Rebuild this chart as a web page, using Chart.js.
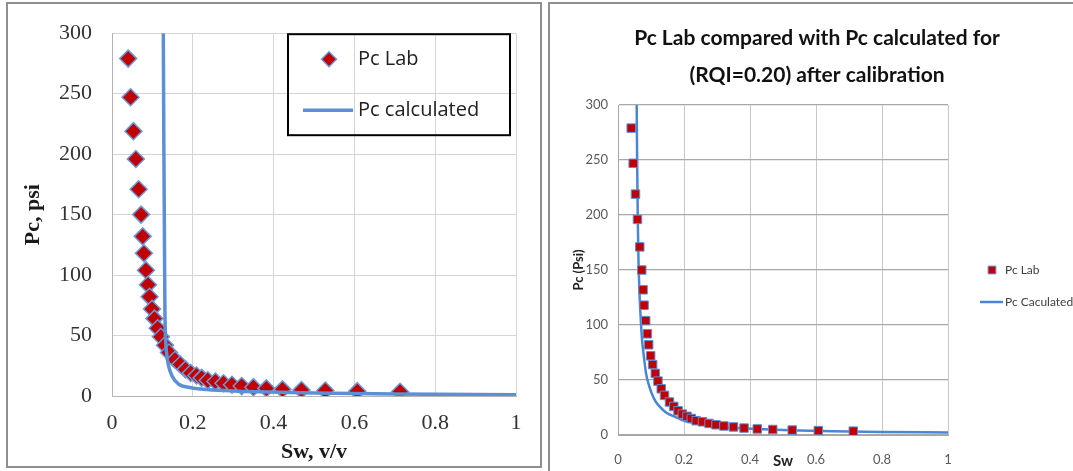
<!DOCTYPE html>
<html>
<head>
<meta charset="utf-8">
<script src="https://cdn.jsdelivr.net/npm/chart.js@4.4.1/dist/chart.umd.min.js"></script>
<style>
  html, body { margin: 0; padding: 0; background: #fff; }
  body { width: 1073px; height: 471px; position: relative; overflow: hidden; }
  .panel { position: absolute; box-sizing: border-box; border: 2px solid #8f8f8f; }
  #panelA { left: 6px; top: 2px; width: 536px; height: 466px; }
  #panelB { left: 548px; top: 2px; width: 600px; height: 500px; }
  canvas { position: absolute; top: 0; }
  #chartA { left: 0; }
  #chartB { left: 548px; }
</style>
</head>
<body>
<div class="panel" id="panelA"></div>
<div class="panel" id="panelB"></div>
<canvas id="chartA" width="545" height="471"></canvas>
<canvas id="chartB" width="538" height="471"></canvas>
<script>
// lab capillary pressure (same points on both plots)
const swLab = [0.040, 0.046, 0.053, 0.059, 0.066, 0.072, 0.076, 0.079, 0.084, 0.089,
  0.093, 0.099, 0.105, 0.113, 0.121, 0.131, 0.141, 0.156, 0.169, 0.182,
  0.195, 0.209, 0.222, 0.237, 0.256, 0.276, 0.297, 0.321, 0.350, 0.382,
  0.422, 0.469, 0.528, 0.607, 0.713]
const pcLab = [279, 247, 219, 196, 171, 150, 132, 118, 104, 92,
  82, 72, 64, 56, 49, 42, 36, 30, 26, 22,
  19, 17, 15, 13, 12, 10.5, 9.3, 8.2, 7.3, 6.3,
  5.5, 5, 4.5, 4, 3.5]

// calculated curve (left plot)
const swCalc = [0.127, 0.1285, 0.130, 0.131, 0.133, 0.136, 0.140, 0.148, 0.164, 0.193, 0.25, 0.333, 0.5, 0.7, 1.0]
const pcCalc = [300, 200, 120, 70, 45, 33, 25, 17, 10, 7, 4.9, 3.8, 2.5, 1.6, 1.0]

// calculated curve after calibration (right plot)
const swCalib = [0.0566, 0.058, 0.060, 0.062, 0.065, 0.069, 0.073, 0.079, 0.085, 0.093,
  0.102, 0.115, 0.137, 0.148, 0.173, 0.2, 0.238, 0.279, 0.35, 0.5, 0.65, 0.8, 1.0]
const pcCalib = [300, 250, 195, 160, 130, 105, 86, 70, 56, 46,
  38, 30, 22.7, 20, 16.5, 13, 10.6, 8, 6.5, 4.5, 3.5, 2.8, 2.3]

const titleB = ['Pc Lab compared with Pc calculated for', '(RQI=0.20) after calibration']

const serif = "'Liberation Serif', 'Times New Roman', serif"
const calibri = "Lato, 'Liberation Sans', sans-serif"

function toPoints(xs, ys) {
  return xs.map((x, i) => ({ x, y: ys[i] }))
}

// excel style: 0, 0.2 ... 1
function shortNum(v) {
  return String(+v.toFixed(2))
}

// legend drawn at a fixed spot next to / inside the plot area
const boxLegend = {
  id: 'boxLegend',
  afterDraw(chart, args, opts) {
    if (!opts.items) return
    const { ctx, chartArea } = chart
    const x0 = chartArea.right + opts.x
    const y0 = chartArea.top + opts.y
    ctx.save()
    if (opts.box) {
      ctx.lineWidth = 2
      ctx.strokeStyle = '#000'
      ctx.strokeRect(x0, y0, opts.box.w, opts.box.h)
    }
    opts.items.forEach(item => {
      const ds = chart.data.datasets[item.dataset]
      const cy = y0 + item.y
      if (item.line) {
        ctx.strokeStyle = ds.borderColor
        ctx.lineWidth = ds.borderWidth
        ctx.beginPath()
        ctx.moveTo(x0 + item.x1, cy)
        ctx.lineTo(x0 + item.x2, cy)
        ctx.stroke()
      } else {
        ctx.fillStyle = ds.backgroundColor
        ctx.strokeStyle = ds.borderColor
        ctx.lineWidth = ds.borderWidth
        Chart.helpers.drawPoint(ctx, {
          pointStyle: ds.pointStyle, radius: item.r, borderWidth: ds.borderWidth, rotation: 0
        }, x0 + item.mx, cy)
      }
      ctx.fillStyle = opts.color
      ctx.font = opts.font
      ctx.textAlign = 'left'
      ctx.textBaseline = 'middle'
      ctx.fillText(ds.label, x0 + opts.textX, cy)
    })
    ctx.restore()
  }
}
Chart.register(boxLegend)

const chartA = new Chart(document.getElementById('chartA'), {
  type: 'scatter',
  data: {
    datasets: [
      {
        label: 'Pc Lab',
        data: toPoints(swLab, pcLab),
        pointStyle: 'rectRot',
        pointRadius: 8.5,
        backgroundColor: '#c00000',
        borderColor: '#6a9ad9',
        borderWidth: 1.5,
        order: 2
      },
      {
        type: 'line',
        label: 'Pc calculated',
        data: toPoints(swCalc, pcCalc),
        borderColor: '#5b8fd6',
        borderWidth: 3.5,
        pointRadius: 0,
        cubicInterpolationMode: 'monotone',
        fill: false,
        order: 1
      }
    ]
  },
  options: {
    responsive: false,
    animation: false,
    layout: { padding: { left: 0, right: 29, top: 28, bottom: 0 } },
    plugins: {
      legend: { display: false },
      tooltip: { enabled: false },
      boxLegend: {
        x: -228, y: 1,
        box: { w: 222, h: 101 },
        textX: 70,
        font: "20px 'Open Sans', sans-serif",
        color: '#222',
        items: [
          { dataset: 0, y: 25, mx: 41, r: 7.5 },
          { dataset: 1, y: 76, line: true, x1: 15, x2: 65 }
        ]
      }
    },
    scales: {
      x: {
        type: 'linear', min: 0, max: 1,
        ticks: { stepSize: 0.2, padding: 14, color: '#333', font: { family: serif, size: 22 }, callback: shortNum },
        grid: { color: '#d4d4d4', drawTicks: false },
        border: { color: '#b4b4b4' },
        title: {
          display: true, text: 'Sw, v/v', color: '#1a1a1a',
          font: { family: serif, size: 22, weight: 'bold' }, padding: { top: 0, bottom: 5 }
        },
        afterFit: s => { s.height = 75 }
      },
      y: {
        min: 0, max: 300,
        ticks: { stepSize: 50, padding: 20, color: '#333', font: { family: serif, size: 22 } },
        grid: { color: '#d4d4d4', drawTicks: false },
        border: { color: '#b4b4b4' },
        title: {
          display: true, text: 'Pc, psi', color: '#1a1a1a',
          font: { family: serif, size: 22, weight: 'bold' }, padding: { top: 20, bottom: 0 }
        },
        afterFit: s => { s.width = 112 }
      }
    }
  }
})

const chartB = new Chart(document.getElementById('chartB'), {
  type: 'scatter',
  data: {
    datasets: [
      {
        label: 'Pc Lab',
        data: toPoints(swLab, pcLab),
        pointStyle: 'rect',
        pointRadius: 6,
        backgroundColor: '#c00000',
        borderColor: '#5a8fd8',
        borderWidth: 1,
        order: 1
      },
      {
        type: 'line',
        label: 'Pc Caculated',
        data: toPoints(swCalib, pcCalib),
        borderColor: '#4a86d4',
        borderWidth: 2.5,
        pointRadius: 0,
        cubicInterpolationMode: 'monotone',
        fill: false,
        order: 2
      }
    ]
  },
  options: {
    responsive: false,
    animation: false,
    layout: { padding: 0 },
    plugins: {
      legend: { display: false },
      tooltip: { enabled: false },
      title: {
        display: true,
        text: titleB,
        color: '#111',
        font: { family: calibri, size: 21, weight: 'bold', lineHeight: 37 / 21 },
        padding: { top: 19.5, bottom: 11.5 }
      },
      boxLegend: {
        x: 0, y: 0,
        textX: 57,
        font: '12px ' + calibri,
        color: '#404040',
        items: [
          { dataset: 0, y: 165, mx: 44, r: 5.5 },
          { dataset: 1, y: 197, line: true, x1: 32, x2: 55 }
        ]
      }
    },
    scales: {
      x: {
        type: 'linear', min: 0, max: 1,
        ticks: { stepSize: 0.2, padding: 17, color: '#595959', font: { family: calibri, size: 13 }, callback: shortNum },
        grid: { color: '#c8c8c8', drawTicks: false },
        border: { color: '#a6a6a6' },
        title: {
          display: true, text: 'Sw', color: '#222',
          font: { family: calibri, size: 15, weight: 'bold' }, padding: { top: 0, bottom: 1 }
        },
        afterFit: s => { s.height = 36 }
      },
      y: {
        min: 0, max: 300,
        ticks: { stepSize: 50, padding: 10, color: '#595959', font: { family: calibri, size: 13 } },
        grid: { color: '#a8a8a8', lineWidth: 1.3, drawTicks: false },
        border: { color: '#a6a6a6' },
        title: {
          display: true, text: 'Pc (Psi)', color: '#222',
          font: { family: calibri, size: 13, weight: 'bold' },
          padding: { top: 23, bottom: 0 }
        },
        afterFit: s => { s.width = 70 }
      },
      // empty column on the right that holds the legend
      legendSpace: {
        type: 'linear', position: 'right', display: true,
        grid: { display: false, drawTicks: false },
        border: { display: false },
        ticks: { display: false },
        afterFit: s => { s.width = 138 }
      }
    }
  }
})
</script>
</body>
</html>
